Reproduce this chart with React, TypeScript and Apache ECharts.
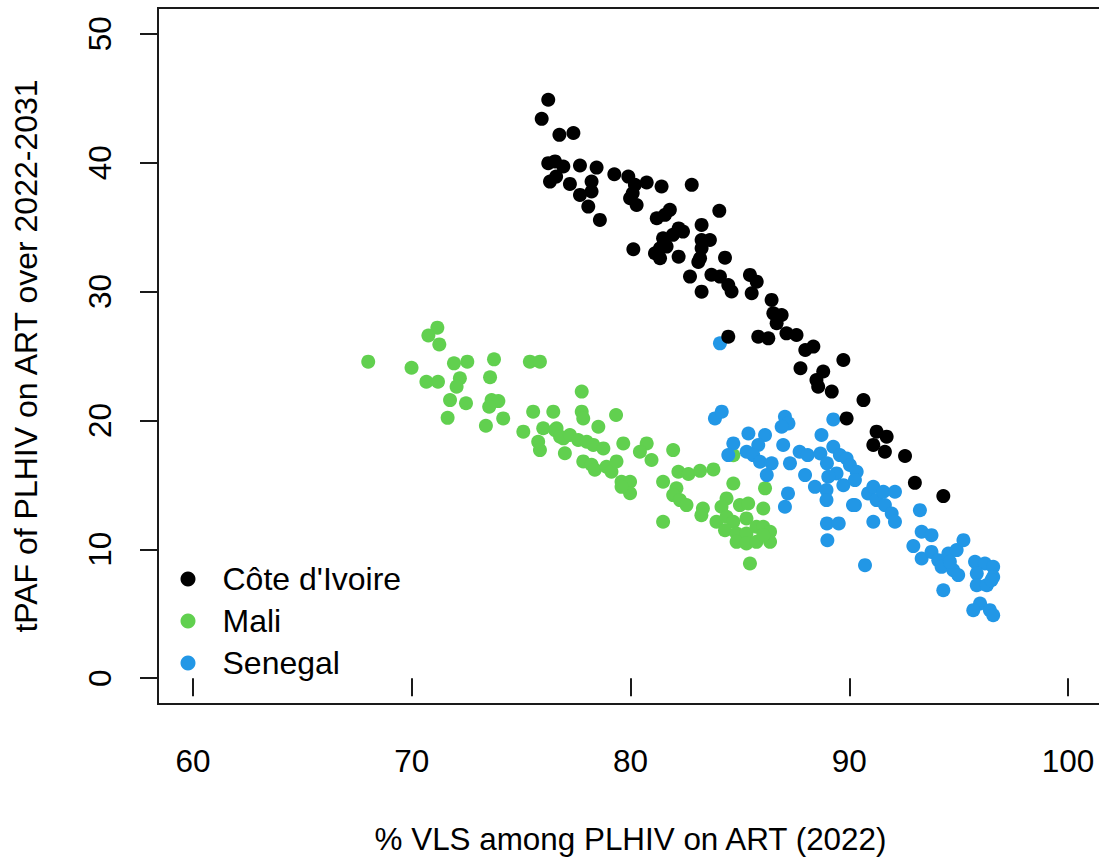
import React, { useEffect, useRef } from "react";
import * as echarts from "echarts";

const seriesNames = ["Côte d'Ivoire", "Mali", "Senegal"];
const seriesColors = ["#000000", "#61D04F", "#2297E6"];

const xTicks = [60, 70, 80, 90, 100];
const yTicks = [0, 10, 20, 30, 40, 50];

const civ: number[][] = [
  [76.24, 44.88], [75.94, 43.4], [76.75, 42.16], [77.39, 42.3], [76.24, 39.96],
  [76.55, 40.1], [76.93, 39.7], [77.69, 39.78], [78.45, 39.62], [76.32, 38.53],
  [76.6, 38.92], [77.23, 38.35], [78.22, 38.53], [77.69, 37.5], [78.22, 37.76],
  [78.07, 36.59], [78.6, 35.56], [79.26, 39.1], [79.9, 38.92], [80.2, 38.28],
  [80.74, 38.46], [81.42, 38.15], [82.8, 38.28], [80.1, 37.63], [79.98, 37.24],
  [80.28, 36.72], [81.2, 35.69], [81.8, 36.34], [81.58, 35.95], [84.06, 36.26],
  [83.25, 35.17], [82.2, 34.9], [82.4, 34.65], [81.94, 34.4], [81.49, 34.14],
  [81.65, 33.49], [81.35, 33.36], [81.12, 32.97], [81.35, 32.58], [80.13, 33.28],
  [82.2, 32.71], [83.25, 34.0], [83.63, 34.0], [83.25, 33.36], [83.18, 32.58],
  [84.32, 32.63], [83.1, 32.3], [82.72, 31.16], [83.25, 29.99], [83.7, 31.3],
  [84.09, 31.16], [84.47, 30.51], [84.62, 30.0], [85.46, 31.29], [85.77, 30.77],
  [85.54, 29.87], [86.45, 29.35], [86.53, 28.31], [86.91, 28.18], [86.68, 27.54],
  [85.84, 26.5], [86.3, 26.37], [87.13, 26.76], [87.59, 26.63], [84.47, 26.5],
  [88.36, 25.73], [87.99, 25.47], [89.73, 24.69], [87.77, 24.05], [88.81, 23.8],
  [88.5, 23.14], [88.58, 22.62], [89.2, 22.24], [90.65, 21.58], [89.88, 20.16],
  [91.25, 19.13], [91.71, 18.74], [91.1, 18.1], [91.63, 17.57], [92.55, 17.24],
  [93.0, 15.16], [94.3, 14.13],
];

const mali: number[][] = [
  [68.01, 24.56], [71.17, 27.2], [70.76, 26.59], [71.26, 25.9], [69.99, 24.09],
  [71.93, 24.43], [72.54, 24.56], [73.76, 24.74], [75.4, 24.56], [75.86, 24.56],
  [70.67, 23.0], [71.2, 23.0], [72.2, 23.27], [72.05, 22.62], [73.58, 23.35],
  [71.75, 21.58], [72.48, 21.33], [73.65, 21.58], [73.96, 21.5], [73.54, 21.06],
  [71.64, 20.2], [74.18, 20.16], [73.39, 19.59], [75.1, 19.13], [75.55, 20.68],
  [76.47, 20.68], [75.78, 18.35], [75.86, 17.7], [76.01, 19.39], [76.62, 19.39],
  [76.93, 18.61], [77.0, 17.45], [77.77, 22.24], [77.77, 20.68], [77.84, 20.16],
  [79.34, 20.42], [78.53, 19.51], [76.55, 19.25], [76.78, 18.74], [77.23, 18.87],
  [77.61, 18.48], [78.0, 18.35], [78.3, 18.1], [78.76, 17.83], [79.67, 18.22],
  [77.84, 16.82], [78.22, 16.56], [78.37, 16.17], [78.9, 16.41], [79.13, 16.02],
  [79.36, 16.82], [80.74, 18.22], [80.43, 17.57], [80.96, 16.93], [81.95, 17.7],
  [79.59, 15.24], [79.98, 15.24], [79.98, 14.35], [79.59, 14.85], [82.19, 16.02],
  [82.65, 15.84], [83.18, 16.09], [83.79, 16.2], [81.49, 15.24], [82.1, 14.73],
  [81.95, 14.21], [82.26, 13.82], [82.56, 13.43], [81.49, 12.14], [84.7, 15.11],
  [83.31, 13.17], [83.24, 12.65], [84.39, 13.95], [84.16, 13.3], [85.0, 13.43],
  [85.38, 13.56], [83.93, 12.14], [84.39, 12.53], [84.7, 12.14], [85.3, 12.4],
  [84.32, 11.49], [84.85, 11.23], [85.3, 11.23], [85.76, 11.75], [86.07, 11.75],
  [86.38, 11.36], [84.85, 10.58], [85.3, 10.46], [85.76, 10.58], [86.38, 10.58],
  [86.07, 11.1], [86.15, 14.73], [86.07, 13.17], [85.46, 8.9], [84.7, 17.3],
];

const senegal: number[][] = [
  [84.09, 25.98], [83.86, 20.16], [84.17, 20.68], [87.06, 20.29], [87.22, 19.77],
  [86.91, 19.51], [89.27, 20.08], [85.39, 18.99], [86.15, 18.87], [84.7, 18.22],
  [85.84, 18.09], [86.98, 18.09], [88.73, 18.87], [84.47, 17.31], [85.31, 17.57],
  [85.61, 17.31], [85.92, 16.8], [86.45, 16.67], [87.73, 17.57], [88.1, 17.31],
  [87.29, 16.67], [88.68, 17.44], [89.27, 17.96], [89.57, 17.31], [89.88, 17.05],
  [88.98, 16.67], [90.03, 16.54], [90.34, 16.02], [89.42, 15.89], [89.04, 15.63],
  [87.98, 15.76], [86.23, 15.76], [87.2, 14.34], [87.06, 13.3], [88.43, 14.85],
  [88.96, 14.6], [89.73, 14.98], [88.96, 13.82], [90.17, 13.43], [90.86, 14.34],
  [91.1, 14.85], [91.25, 13.82], [91.1, 12.14], [88.98, 12.01], [89.52, 12.01],
  [89.0, 10.7], [90.26, 15.37], [91.56, 14.47], [92.09, 14.47], [90.26, 13.43],
  [91.63, 13.43], [91.94, 12.78], [92.09, 12.14], [93.23, 13.04], [93.31, 11.36],
  [93.76, 11.1], [92.93, 10.25], [93.31, 9.29], [93.76, 9.8], [94.07, 9.16],
  [94.53, 9.68], [94.91, 9.94], [95.22, 10.71], [94.22, 8.64], [94.75, 8.39],
  [94.98, 8.0], [94.6, 9.03], [90.72, 8.77], [94.3, 6.83], [95.75, 9.03],
  [96.2, 8.9], [96.58, 8.64], [95.83, 8.13], [96.58, 7.86], [95.83, 7.22],
  [96.29, 7.22], [96.5, 7.61], [95.98, 5.8], [95.67, 5.28], [96.43, 5.28],
  [96.58, 4.89],
];

const xTitle = "% VLS among PLHIV on ART (2022)";
const yTitle = "tPAF of PLHIV on ART over 2022-2031";

const FONT = "'Liberation Sans', Arial, sans-serif";

export default function App() {
  const ref = useRef<HTMLDivElement>(null);
  useEffect(() => {
    if (!ref.current) return;
    const chart = echarts.init(ref.current, undefined, { renderer: "svg" });
    const dataByName: Record<string, number[][]> = {
      "Côte d'Ivoire": civ,
      Mali: mali,
      Senegal: senegal,
    };
    const drawOrder = ["Mali", "Senegal", "Côte d'Ivoire"];
    chart.setOption({
      animation: false,
      backgroundColor: "#ffffff",
      textStyle: { fontFamily: FONT },
      grid: {
        left: 158,
        top: 8,
        width: 945,
        height: 696,
        show: true,
        borderColor: "#1a1a1a",
        borderWidth: 2,
        backgroundColor: "transparent",
      },
      legend: {
        orient: "vertical",
        left: 175.5,
        top: 558,
        icon: "circle",
        itemWidth: 15,
        itemHeight: 15,
        itemGap: 10,
        data: seriesNames,
        selectedMode: false,
        textStyle: {
          fontSize: 32,
          lineHeight: 30,
          color: "#000",
          fontFamily: FONT,
          padding: [0, 0, 0, 22],
        },
      },
      xAxis: {
        type: "value",
        min: 58.4,
        max: 101.6,
        name: xTitle,
        nameLocation: "middle",
        nameGap: 120,
        nameTextStyle: { fontSize: 31.4, color: "#000", fontFamily: FONT },
        axisLine: { show: false },
        splitLine: { show: false },
        axisTick: {
          show: true,
          length: 18,
          customValues: xTicks,
          lineStyle: { color: "#1a1a1a", width: 2 },
        },
        axisLabel: {
          customValues: xTicks,
          fontSize: 31.5,
          color: "#000",
          margin: 41,
          fontFamily: FONT,
        },
      },
      yAxis: {
        type: "value",
        min: -2,
        max: 52,
        name: yTitle,
        nameLocation: "middle",
        nameGap: 116,
        nameTextStyle: { fontSize: 32, color: "#000", fontFamily: FONT },
        axisLine: { show: false },
        splitLine: { show: false },
        axisTick: {
          show: true,
          length: 18,
          customValues: yTicks,
          lineStyle: { color: "#1a1a1a", width: 2 },
        },
        axisLabel: {
          customValues: yTicks,
          fontSize: 31.5,
          color: "#000",
          rotate: 90,
          margin: 42,
          fontFamily: FONT,
        },
      },
      series: drawOrder.map((name) => ({
        name,
        type: "scatter",
        data: dataByName[name],
        symbol: "circle",
        symbolSize: 14,
        itemStyle: {
          color: seriesColors[seriesNames.indexOf(name)],
          opacity: 1,
        },
        emphasis: { disabled: true },
      })),
    });
    return () => chart.dispose();
  }, []);
  return (
    <div
      style={{
        position: "absolute",
        left: 0,
        top: 0,
        width: 1099,
        height: 861,
        overflow: "hidden",
        background: "#fff",
      }}
    >
      <div ref={ref} style={{ width: 1103, height: 861 }} />
    </div>
  );
}
